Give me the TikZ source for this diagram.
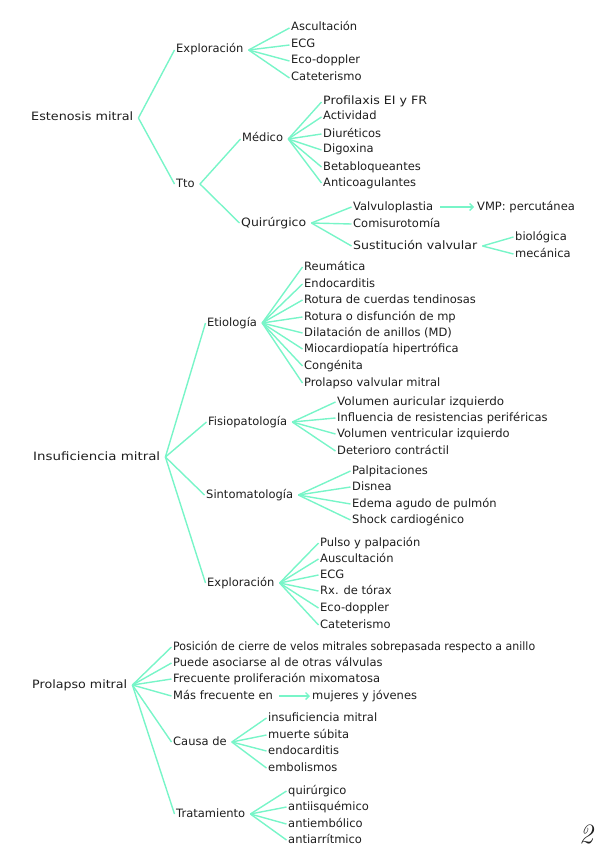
\documentclass[tikz,border=0pt]{standalone}
\usepackage{fontspec}
\newfontfamily\hand{DejaVu Sans}
\usetikzlibrary{arrows.meta}
\definecolor{aqua}{RGB}{120,245,200}
\definecolor{ink}{RGB}{30,30,30}
\newcommand\fw[2]{\resizebox{#1pt}{\height}{#2}}
\begin{document}
\begin{tikzpicture}[x=1pt,y=-1pt,
  lbl/.style={anchor=west,inner xsep=0pt,inner ysep=0pt,text height=8.5pt,text depth=2.5pt,font=\hand\fontsize{11.5}{13}\selectfont,text=ink},
  br/.style={draw=aqua,line width=1.4pt},
  arr/.style={br,-{Straight Barb[length=3.5pt,width=7pt]}}]
\useasboundingbox (0,0) rectangle (599,848);
% Estenosis mitral
\node[lbl] (es) at (31,118) {\fw{102}{Estenosis mitral}};
\node[lbl] (es1) at (176,50) {Exploración};
\node[lbl] (es11) at (291,28) {Ascultación};
\node[lbl] (es12) at (291,45) {ECG};
\node[lbl] (es13) at (291,61) {Eco-doppler};
\node[lbl] (es14) at (291,78) {Cateterismo};
\node[lbl] (es2) at (176,184) {Tto};
\node[lbl] (es21) at (242,139) {Médico};
\node[lbl] (es211) at (323,102) {\fw{104}{Profilaxis EI y FR}};
\node[lbl] (es212) at (323,117) {Actividad};
\node[lbl] (es213) at (323,134) {Diuréticos};
\node[lbl] (es214) at (323,150) {Digoxina};
\node[lbl] (es215) at (323,167) {Betabloqueantes};
\node[lbl] (es216) at (323,183) {Anticoagulantes};
\node[lbl] (es22) at (241,223) {\fw{65}{Quirúrgico}};
\node[lbl] (es221) at (353,207) {Valvuloplastia};
\node[lbl] (es221a) at (477,207) {VMP: percutánea};
\node[lbl] (es222) at (353,224) {Comisurotomía};
\node[lbl] (es223) at (353,246) {\fw{124}{Sustitución valvular}};
\node[lbl] (es2231) at (515,237) {biológica};
\node[lbl] (es2232) at (515,254) {mecánica};
% Insuficiencia mitral
\node[lbl] (in) at (33,457) {\fw{127}{Insuficiencia mitral}};
\node[lbl] (in1) at (207,323) {Etiología};
\node[lbl] (in11) at (304,267) {Reumática};
\node[lbl] (in12) at (304,284) {Endocarditis};
\node[lbl] (in13) at (304,300) {Rotura de cuerdas tendinosas};
\node[lbl] (in14) at (304,317) {Rotura o disfunción de mp};
\node[lbl] (in15) at (304,333) {Dilatación de anillos (MD)};
\node[lbl] (in16) at (304,349) {Miocardiopatía hipertrófica};
\node[lbl] (in17) at (304,366) {Congénita};
\node[lbl] (in18) at (304,383) {Prolapso valvular mitral};
\node[lbl] (in2) at (208,422) {Fisiopatología};
\node[lbl] (in21) at (337,402) {\fw{167}{Volumen auricular izquierdo}};
\node[lbl] (in22) at (337,418) {Influencia de resistencias periféricas};
\node[lbl] (in23) at (337,434) {Volumen ventricular izquierdo};
\node[lbl] (in24) at (337,451) {Deterioro contráctil};
\node[lbl] (in3) at (206,495) {Sintomatología};
\node[lbl] (in31) at (352,471) {Palpitaciones};
\node[lbl] (in32) at (352,487) {Disnea};
\node[lbl] (in33) at (352,504) {Edema agudo de pulmón};
\node[lbl] (in34) at (352,520) {Shock cardiogénico};
\node[lbl] (in4) at (207,583) {Exploración};
\node[lbl] (in41) at (320,543) {Pulso y palpación};
\node[lbl] (in42) at (320,559) {Auscultación};
\node[lbl] (in43) at (320,575) {ECG};
\node[lbl] (in44) at (320,591) {Rx. de tórax};
\node[lbl] (in45) at (320,608) {Eco-doppler};
\node[lbl] (in46) at (320,625) {Cateterismo};
% Prolapso mitral
\node[lbl] (pr) at (32,685) {\fw{95}{Prolapso mitral}};
\node[lbl] (pr1) at (173,647) {\fw{362}{Posición de cierre de velos mitrales sobrepasada respecto a anillo}};
\node[lbl] (pr2) at (173,663) {Puede asociarse al de otras válvulas};
\node[lbl] (pr3) at (173,679) {Frecuente proliferación mixomatosa};
\node[lbl] (pr4) at (173,696) {Más frecuente en};
\node[lbl] (pr4a) at (312,696) {mujeres y jóvenes};
\node[lbl] (pr5) at (173,742) {Causa de};
\node[lbl] (pr51) at (268,718) {insuficiencia mitral};
\node[lbl] (pr52) at (268,735) {muerte súbita};
\node[lbl] (pr53) at (268,751) {endocarditis};
\node[lbl] (pr54) at (268,768) {embolismos};
\node[lbl] (pr6) at (176,814) {Tratamiento};
\node[lbl] (pr61) at (288,791) {quirúrgico};
\node[lbl] (pr62) at (288,807) {antiisquémico};
\node[lbl] (pr63) at (288,824) {antiembólico};
\node[lbl] (pr64) at (288,840) {antiarrítmico};
% page number
\node[font=\itshape\fontsize{28}{30}\selectfont,text=ink,inner sep=0pt] (pg) at (586,834) {2};
% connectors
\foreach \p/\c in {es/es1,es/es2,es1/es11,es1/es12,es1/es13,es1/es14,
  es2/es21,es2/es22,es21/es211,es21/es212,es21/es213,es21/es214,es21/es215,es21/es216,
  es22/es221,es22/es222,es22/es223,es223/es2231,es223/es2232,
  in/in1,in/in2,in/in3,in/in4,
  in1/in11,in1/in12,in1/in13,in1/in14,in1/in15,in1/in16,in1/in17,in1/in18,
  in2/in21,in2/in22,in2/in23,in2/in24,
  in3/in31,in3/in32,in3/in33,in3/in34,
  in4/in41,in4/in42,in4/in43,in4/in44,in4/in45,in4/in46,
  pr/pr1,pr/pr2,pr/pr3,pr/pr4,pr/pr5,pr/pr6,
  pr5/pr51,pr5/pr52,pr5/pr53,pr5/pr54,
  pr6/pr61,pr6/pr62,pr6/pr63,pr6/pr64}
  \draw[br] ([xshift=5pt]\p.east) -- ([xshift=-1.5pt]\c.west);
\draw[arr] ([xshift=7pt]es221.east) -- ([xshift=-3pt]es221a.west);
\draw[arr] ([xshift=6pt]pr4.east) -- ([xshift=-2pt]pr4a.west);
\end{tikzpicture}
\end{document}
